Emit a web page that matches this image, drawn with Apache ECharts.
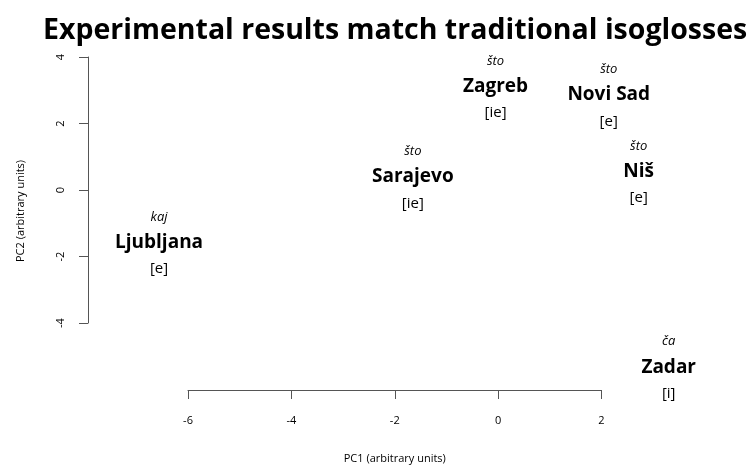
<!DOCTYPE html>
<html>
<head>
<meta charset="utf-8">
<script src="https://cdn.jsdelivr.net/npm/echarts@6/dist/echarts.min.js"></script>
<style>
  html, body { margin: 0; padding: 0; background: #fff; overflow: hidden; }
  #box { width: 754px; height: 465px; }
</style>
</head>
<body>
<div id="box"></div>
<script>
// city names, PCA coordinates, dialect group and yat reflex
const cities = ["Zagreb", "Novi Sad", "Sarajevo", "Niš", "Ljubljana", "Zadar"];
const pc1 = [-0.05, 2.14, -1.65, 2.72, -6.56, 3.30];
const pc2 = [3.08, 2.83, 0.36, 0.52, -1.61, -5.36];
const dialects = ["što", "što", "što", "što", "kaj", "ča"];
const reflexes = ["[ie]", "[e]", "[ie]", "[e]", "[e]", "[i]"];

const xTicks = [-6, -4, -2, 0, 2];
const yTicks = [-4, -2, 0, 2, 4];

const font = "Open Sans";
var myChart = echarts.init(document.getElementById("box"));

myChart.setOption({
  animation: false,
  backgroundColor: "#fff",
  title: {
    text: "Experimental results match traditional isoglosses",
    left: 38,
    top: 11,
    textStyle: { fontFamily: font, fontWeight: "bold", fontSize: 28.5, color: "#000" },
  },
  grid: { left: 188, right: 152.5, top: 57, bottom: 142, outerBoundsMode: "none" },
  xAxis: {
    type: "value",
    min: xTicks[0],
    max: xTicks[xTicks.length - 1],
    interval: 2,
    position: "bottom",
    offset: 67,
    name: "PC1 (arbitrary units)",
    nameLocation: "middle",
    nameGap: 63,
    nameTextStyle: { fontFamily: font, fontSize: 11, color: "#000" },
    axisLine: { show: true, onZero: false, lineStyle: { color: "#555", width: 1 } },
    axisTick: { show: true, length: 9, lineStyle: { color: "#555" } },
    axisLabel: { fontFamily: font, fontSize: 11, color: "#000", margin: 25 },
    splitLine: { show: false },
  },
  yAxis: {
    type: "value",
    min: yTicks[0],
    max: yTicks[yTicks.length - 1],
    interval: 2,
    position: "left",
    offset: 100,
    name: "PC2 (arbitrary units)",
    nameLocation: "middle",
    nameGap: 62,
    nameTextStyle: { fontFamily: font, fontSize: 11, color: "#000", padding: [0, 42, 0, 0] },
    axisLine: { show: true, onZero: false, lineStyle: { color: "#555", width: 1 } },
    axisTick: { show: true, length: 9, lineStyle: { color: "#555" } },
    axisLabel: { fontFamily: font, fontSize: 11, color: "#000", margin: 22, rotate: 90 },
    splitLine: { show: false },
  },
  series: [
    {
      type: "scatter",
      clip: false,
      symbol: "circle",
      symbolSize: 1,
      itemStyle: { color: "rgba(0,0,0,0)" },
      data: cities.map(function (c, i) {
        return { name: c, value: [pc1[i], pc2[i]], dialect: dialects[i], reflex: reflexes[i] };
      }),
      label: {
        show: true,
        position: "inside",
        color: "#000",
        opacity: 1,
        formatter: function (p) {
          return "{d|" + p.data.dialect + "}\n{c|" + p.name + "}\n{r|" + p.data.reflex + "}";
        },
        rich: {
          d: { fontFamily: font, fontStyle: "italic", fontSize: 13, color: "#000", lineHeight: 25, align: "center" },
          c: { fontFamily: font, fontWeight: "bold", fontSize: 19, color: "#000", lineHeight: 26, align: "center" },
          r: { fontFamily: font, fontSize: 15, color: "#000", lineHeight: 27, align: "center" },
        },
      },
    },
  ],
});
</script>
</body>
</html>
